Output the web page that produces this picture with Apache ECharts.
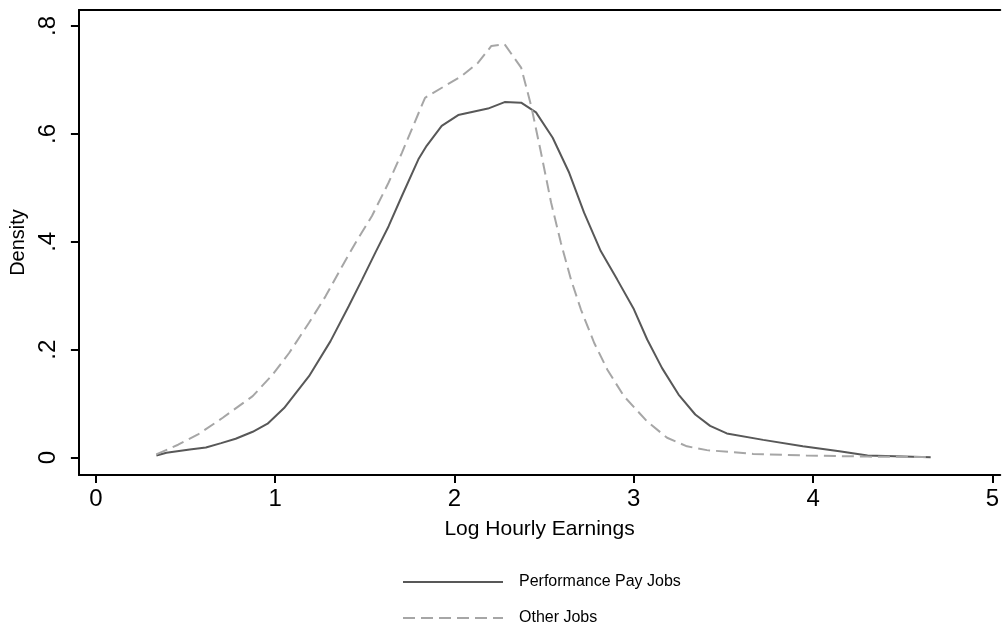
<!DOCTYPE html>
<html>
<head>
<meta charset="utf-8">
<script src="https://cdn.jsdelivr.net/npm/echarts@6/dist/echarts.min.js"></script>
<style>
html,body{margin:0;padding:0;background:#fff;}
#chart{width:1002px;height:631px;}
</style>
</head>
<body>
<div id="chart"></div>
<script>
var seriesNames = ["Performance Pay Jobs", "Other Jobs"];
var xTicks = [0, 1, 2, 3, 4, 5];
var yTicks = [0, 0.2, 0.4, 0.6, 0.8];

var perfX = [0.338,0.394,0.524,0.614,0.699,0.780,0.875,0.958,1.050,1.189,1.309,1.411,1.485,1.559,1.633,1.707,1.799,1.845,1.929,2.021,2.187,2.280,2.372,2.455,2.548,2.640,2.723,2.816,2.908,3.001,3.075,3.158,3.250,3.343,3.426,3.519,3.722,3.943,4.147,4.304,4.656];
var perfY = [0.004,0.009,0.015,0.019,0.027,0.035,0.048,0.063,0.092,0.151,0.216,0.281,0.330,0.380,0.429,0.485,0.553,0.578,0.615,0.635,0.647,0.659,0.658,0.640,0.593,0.528,0.454,0.383,0.330,0.275,0.219,0.166,0.117,0.080,0.059,0.045,0.033,0.021,0.012,0.004,0.001];

var otherX = [0.337,0.459,0.570,0.708,0.875,0.986,1.078,1.189,1.281,1.374,1.448,1.540,1.633,1.707,1.836,1.947,2.039,2.132,2.206,2.280,2.372,2.428,2.483,2.539,2.594,2.650,2.705,2.779,2.853,2.945,3.075,3.186,3.297,3.408,3.666,3.962,4.304,4.656];
var otherY = [0.006,0.024,0.043,0.074,0.114,0.154,0.194,0.250,0.299,0.355,0.398,0.448,0.510,0.565,0.667,0.689,0.707,0.732,0.763,0.766,0.723,0.652,0.565,0.473,0.398,0.330,0.275,0.213,0.163,0.114,0.067,0.037,0.021,0.014,0.007,0.004,0.002,0.001];

function pairs(xs, ys){ return xs.map(function(x,i){ return [x, ys[i]]; }); }

var FONT = "'Liberation Sans', Arial, Helvetica, sans-serif";
var chart = echarts.init(document.getElementById('chart'), null, {renderer:'canvas'});
var xMin = -0.0943, xMax = 5.044, yMin = -0.0321, yMax = 0.8297;

chart.setOption({
  animation: false,
  backgroundColor: '#fff',
  grid: {left: 75, right: 0, top: 10, bottom: 156, containLabel: false},
  legend: {
    orient: 'vertical',
    left: 402, top: 574, padding: 0,
    itemWidth: 100, itemHeight: 14, itemGap: 20,
    data: seriesNames.map(function(n){ return {name: n, itemStyle: {opacity: 0}}; }),
    textStyle: {fontFamily: FONT, fontSize: 16, color: '#000', padding: [0,0,0,11]}
  },
  xAxis: [{
    type: 'value', min: xMin, max: xMax, position: 'bottom',
    name: 'Log Hourly Earnings', nameLocation: 'middle', nameGap: 44,
    nameTextStyle: {fontFamily: FONT, fontSize: 21, color: '#000'},
    axisLine: {show: true, onZero: false, lineStyle: {color: '#000', width: 2}},
    axisTick: {show: true, length: 8, lineStyle: {color: '#000', width: 2}, customValues: xTicks},
    axisLabel: {fontFamily: FONT, fontSize: 24, color: '#000', margin: 12, customValues: xTicks,
      formatter: function(v){ return String(v); }},
    splitLine: {show: false}
  }, {
    type: 'value', min: xMin, max: xMax, position: 'top',
    axisLine: {show: true, onZero: false, lineStyle: {color: '#000', width: 2}},
    axisTick: {show: false}, axisLabel: {show: false}, splitLine: {show: false}
  }],
  yAxis: {
    type: 'value', min: yMin, max: yMax,
    name: 'Density', nameLocation: 'middle', nameGap: 36, nameRotate: 90,
    nameTextStyle: {fontFamily: FONT, fontSize: 20, color: '#000'},
    axisLine: {show: true, onZero: false, lineStyle: {color: '#000', width: 2}},
    axisTick: {show: true, length: 8, lineStyle: {color: '#000', width: 2}, customValues: yTicks},
    axisLabel: {fontFamily: FONT, fontSize: 24, color: '#000', margin: 19, rotate: 90, customValues: yTicks,
      formatter: function(v){ if (Math.abs(v) < 1e-9) return '0'; return String(Math.round(v*10)/10).replace(/^0/, ''); }},
    splitLine: {show: false}
  },
  series: [{
    name: seriesNames[0], type: 'line', xAxisIndex: 0,
    data: pairs(perfX, perfY), showSymbol: false, symbol: 'none', smooth: false,
    lineStyle: {color: '#585858', width: 2},
    itemStyle: {color: '#585858'}
  }, {
    name: seriesNames[1], type: 'line', xAxisIndex: 0,
    data: pairs(otherX, otherY), showSymbol: false, symbol: 'none', smooth: false,
    lineStyle: {color: '#a6a6a6', width: 2, type: [12, 6]},
    itemStyle: {color: '#a6a6a6'}
  }]
});
</script>
</body>
</html>
